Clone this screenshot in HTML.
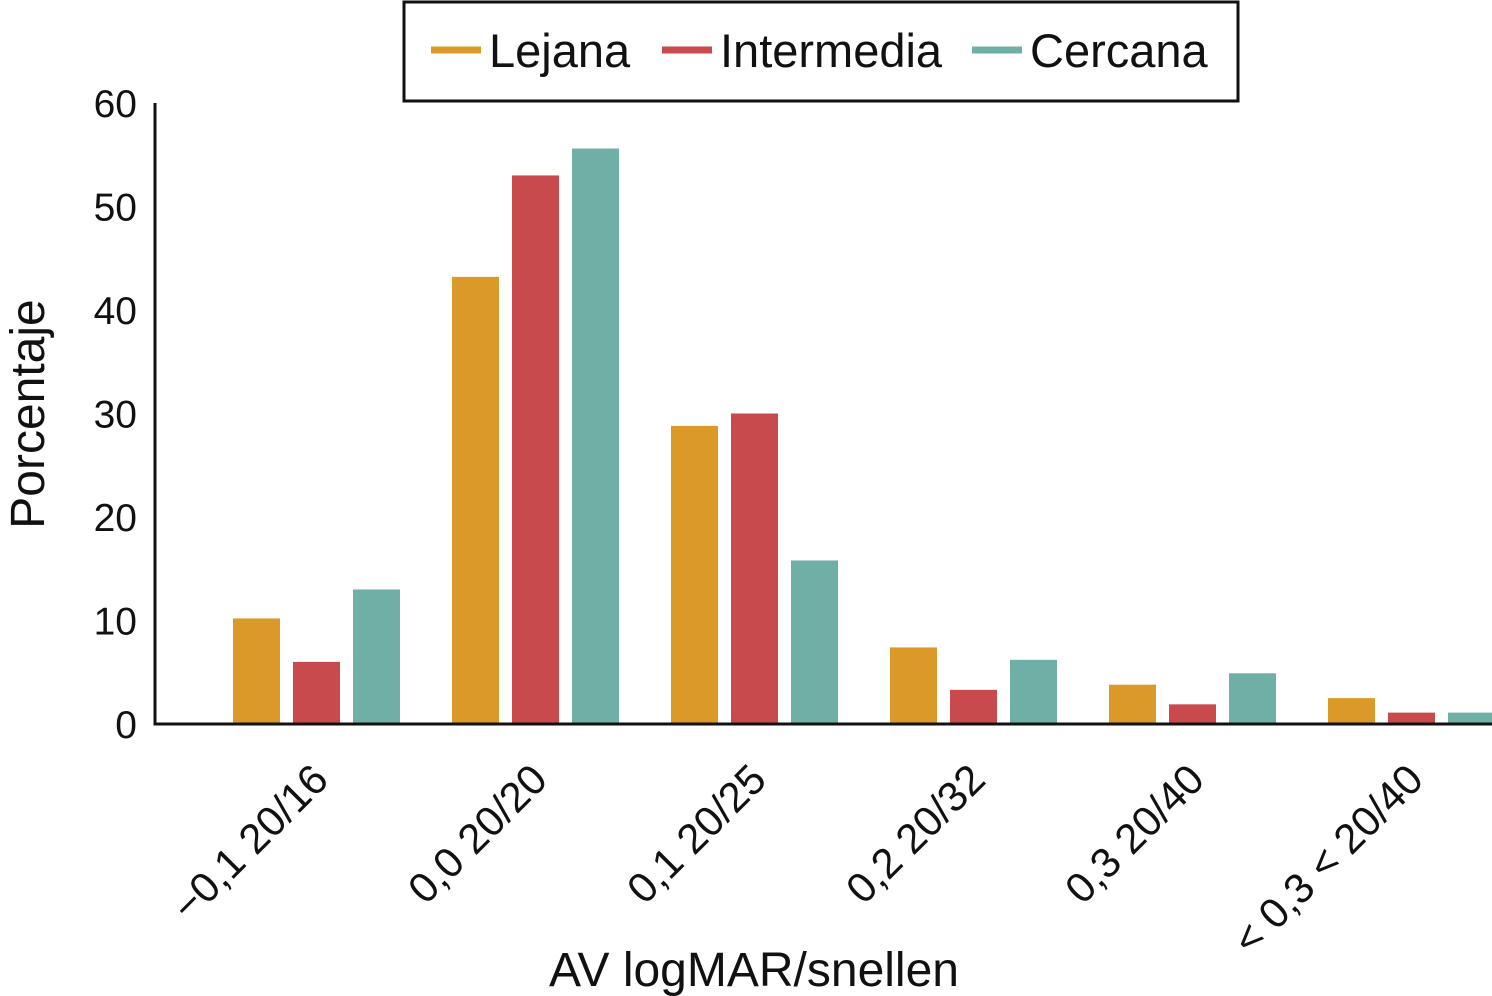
<!DOCTYPE html>
<html><head><meta charset="utf-8"><style>
html,body{margin:0;padding:0;background:#fff;width:1492px;height:996px;overflow:hidden;}
text{font-family:"Liberation Sans",Arial,sans-serif;fill:#111;}
</style></head><body>
<svg id="chart" width="1492" height="996" viewBox="0 0 1492 996" xmlns="http://www.w3.org/2000/svg"></svg>
<script>
const categories = ["\u22120,1 20/16","0,0 20/20","0,1 20/25","0,2 20/32","0,3 20/40","< 0,3 < 20/40"];
const lejana = [10.2,43.2,28.8,7.4,3.8,2.5];
const intermedia = [6.0,53.0,30.0,3.3,1.9,1.1];
const cercana = [13.0,55.6,15.8,6.2,4.9,1.1];
const yTicks = [0,10,20,30,40,50,60];
const seriesNames = ["Lejana","Intermedia","Cercana"];
const colors = ["#DB9A28","#C84A4C","#70AFA6"];

const NS="http://www.w3.org/2000/svg";
const svg=document.getElementById('chart');
function mk(t,a,p){const e=document.createElementNS(NS,t);for(const k in a)e.setAttribute(k,a[k]);(p||svg).appendChild(e);return e;}
const y0=724, yTop=103, yMax=60;
const y=v=>y0-(v/yMax)*(y0-yTop);
const groupStart=233, groupStep=219, barW=47, barStep=60;
const x=(i,s)=>groupStart+i*groupStep+s*barStep;

yTicks.forEach(t=>{
  const tx=mk('text',{x:137,y:y(t)+14,'text-anchor':'end','font-size':39});
  tx.textContent=t;
  
  
});
const all=[lejana,intermedia,cercana];
all.forEach((arr,s)=>arr.forEach((v,i)=>{
  const r=mk('rect',{x:x(i,s),y:y(v),width:barW,height:y0-y(v),fill:colors[s]});
  
  
}));
const ax=mk('path',{d:`M155 ${yTop} V${y0} H1492`,stroke:'#111','stroke-width':3,fill:'none'});


categories.forEach((c,i)=>{
  const cx=x(i,1)+barW/2+14, cy=782;
  const t=mk('text',{x:cx,y:cy,'text-anchor':'end','font-size':42,transform:`rotate(-45 ${cx} ${cy})`});
  t.textContent=c;
  
  
});
const xt=mk('text',{x:754,y:986,'text-anchor':'middle','font-size':48});
xt.textContent='AV logMAR/snellen';


const yt=mk('text',{x:44,y:414,'text-anchor':'middle','font-size':48,transform:'rotate(-90 44 414)'});
yt.textContent='Porcentaje';


const lg=mk('g',{});


mk('rect',{x:404,y:2,width:834,height:99,fill:'#fff',stroke:'#111','stroke-width':3},lg);
const lx=[431,662,972];
seriesNames.forEach((n,s)=>{
  const e=mk('g',{},lg);
  
  
  mk('line',{x1:lx[s],x2:lx[s]+50,y1:50,y2:50,stroke:colors[s],'stroke-width':7},e);
  const t=mk('text',{x:lx[s]+58,y:67,'font-size':47},e);
  t.textContent=n;
});
</script>
</body></html>
